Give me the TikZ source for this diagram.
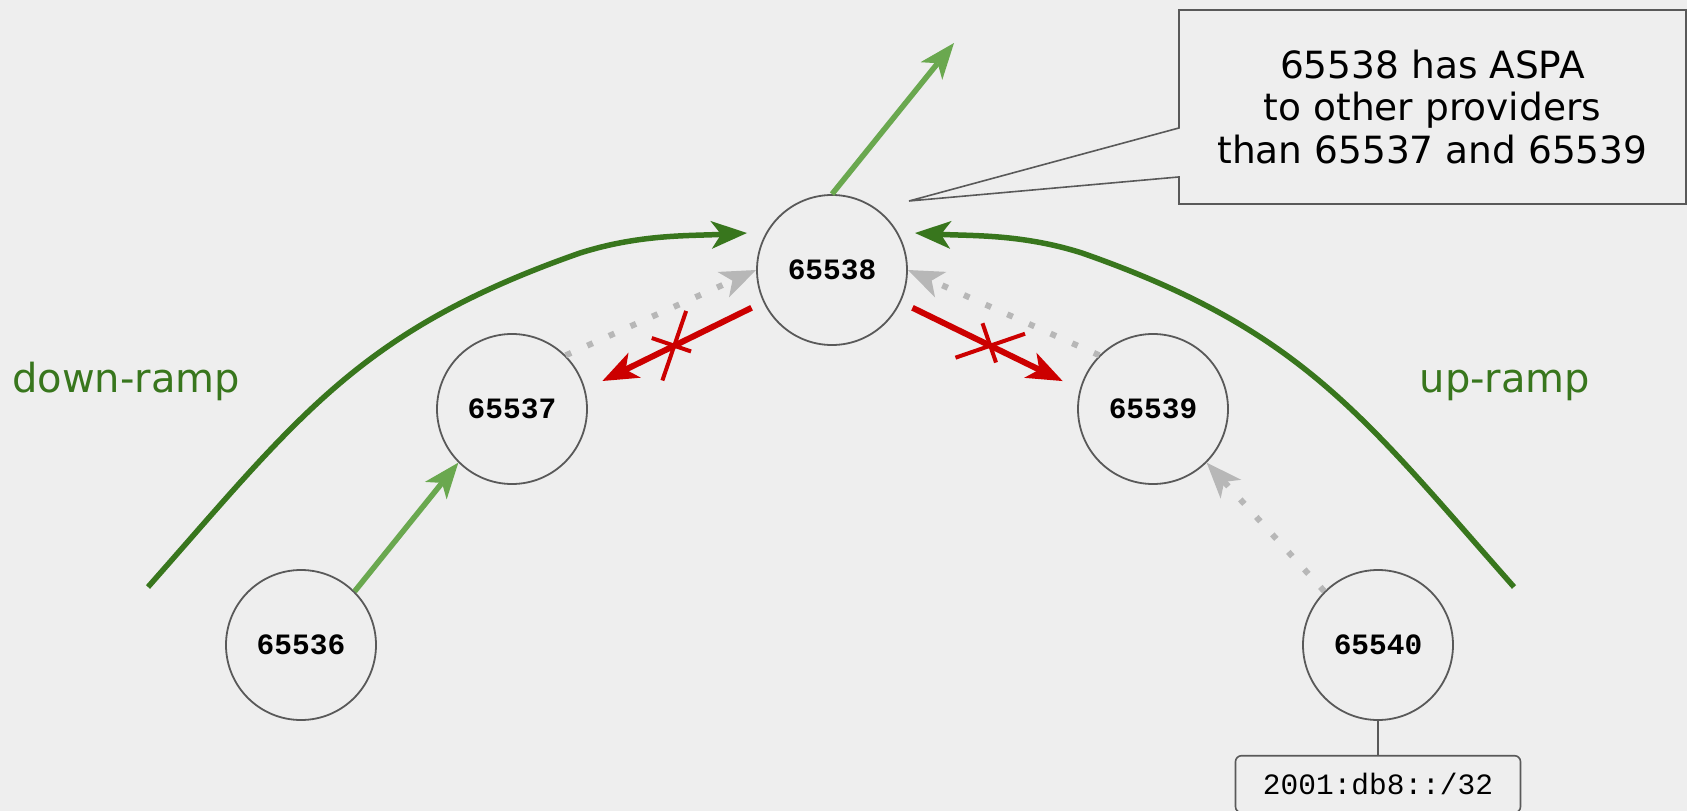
\documentclass[tikz,border=0pt]{standalone}
\usepackage{fontspec}
\setmainfont{DejaVu Sans}
\setmonofont{Liberation Mono}
\usetikzlibrary{arrows.meta, positioning, shapes.misc, shapes.callouts}

\definecolor{bggray}{HTML}{EEEEEE}
\definecolor{edgegray}{HTML}{595959}
\definecolor{rampgreen}{HTML}{38761D}
\definecolor{pathgreen}{HTML}{6AA84F}
\definecolor{dropred}{HTML}{CC0000}
\definecolor{hintgray}{HTML}{B7B7B7}

\begin{document}
\begin{tikzpicture}[
    x=1pt, y=-1pt,
    asnode/.style={circle, draw=edgegray, line width=1.8pt, minimum size=150pt, inner sep=0pt, font=\fontsize{29.5}{34}\selectfont\ttfamily\bfseries},
    headtip/.style={-{Stealth[length=36pt, width=28pt, inset=10pt, line width=0pt]}},
    okarrow/.style={headtip, line width=5.5pt, pathgreen},
    ramparrow/.style={headtip, line width=5.5pt, rampgreen},
    hintarrow/.style={headtip, line width=6pt, hintgray, dash pattern=on 6pt off 17.7pt},
    droparrow/.style={headtip, line width=6pt, dropred, shorten <=13pt, shorten >=19pt},
    dropmark/.style={cross out, draw=dropred, line width=4pt, minimum size=48pt, inner sep=0pt, sloped},
    ramplabel/.style={rampgreen, anchor=base, font=\fontsize{40}{48}\selectfont},
    notebox/.style={rectangle callout, draw=edgegray, line width=1.6pt, minimum width=507pt, minimum height=194pt, align=center, callout pointer width=49pt, font=\fontsize{37.5}{42.5}\selectfont},
    prefixbox/.style={rectangle, rounded corners=6pt, draw=edgegray, line width=1.6pt, minimum width=285pt, minimum height=57pt, inner sep=0pt, font=\fontsize{29.5}{34}\selectfont\ttfamily}
]
\path[use as bounding box, fill=bggray] (0,0) rectangle (1687,811);

\node[asnode] (n65538) at (832,270) {65538};
\node[asnode] (n65537) at (512,409) {65537};
\node[asnode] (n65539) at (1153,409) {65539};
\node[asnode] (n65536) at (301,645) {65536};
\node[asnode] (n65540) at (1378,645) {65540};
\node[prefixbox, below=34pt of n65540] (prefix) {2001:db8::/32};
\draw[edgegray, line width=1.6pt] (n65540) -- (prefix);

\node[ramplabel] (downlbl) at (126,392) {down-ramp};
\node[ramplabel] (uplbl) at (1505,392) {up-ramp};

\coordinate (notetip) at (909,201);
\node[notebox, callout absolute pointer=(notetip)] (note) at (1432.5,107) {65538 has ASPA\\to other providers\\than 65537 and 65539};

% ramps
\coordinate (downfoot) at (148,587);
\coordinate (downtop) at (747,233);
\coordinate (upfoot) at (1514,587);
\coordinate (uptop) at (915,233);
\draw[ramparrow] (downfoot) .. controls (300,415) and (360,330) .. (580,253) .. controls (640,234) and (690,236) .. (downtop);
\draw[ramparrow] (upfoot) .. controls (1362,415) and (1302,330) .. (1082,253) .. controls (1022,234) and (972,236) .. (uptop);

% announcements
\coordinate (uplink) at (954,43);
\draw[okarrow] (n65536.45) -- (n65537.225);
\draw[okarrow] (n65538.north) -- (uplink);
\draw[hintarrow] (n65537.45) -- (n65538.180);
\draw[hintarrow] (n65539.135) -- (n65538.0);
\draw[hintarrow] (n65540.135) -- (n65539.-45);
\draw[droparrow] (n65538.205) -- node[dropmark] {} (n65537.15);
\draw[droparrow] (n65538.335) -- node[dropmark] {} (n65539.165);
\end{tikzpicture}
\end{document}
